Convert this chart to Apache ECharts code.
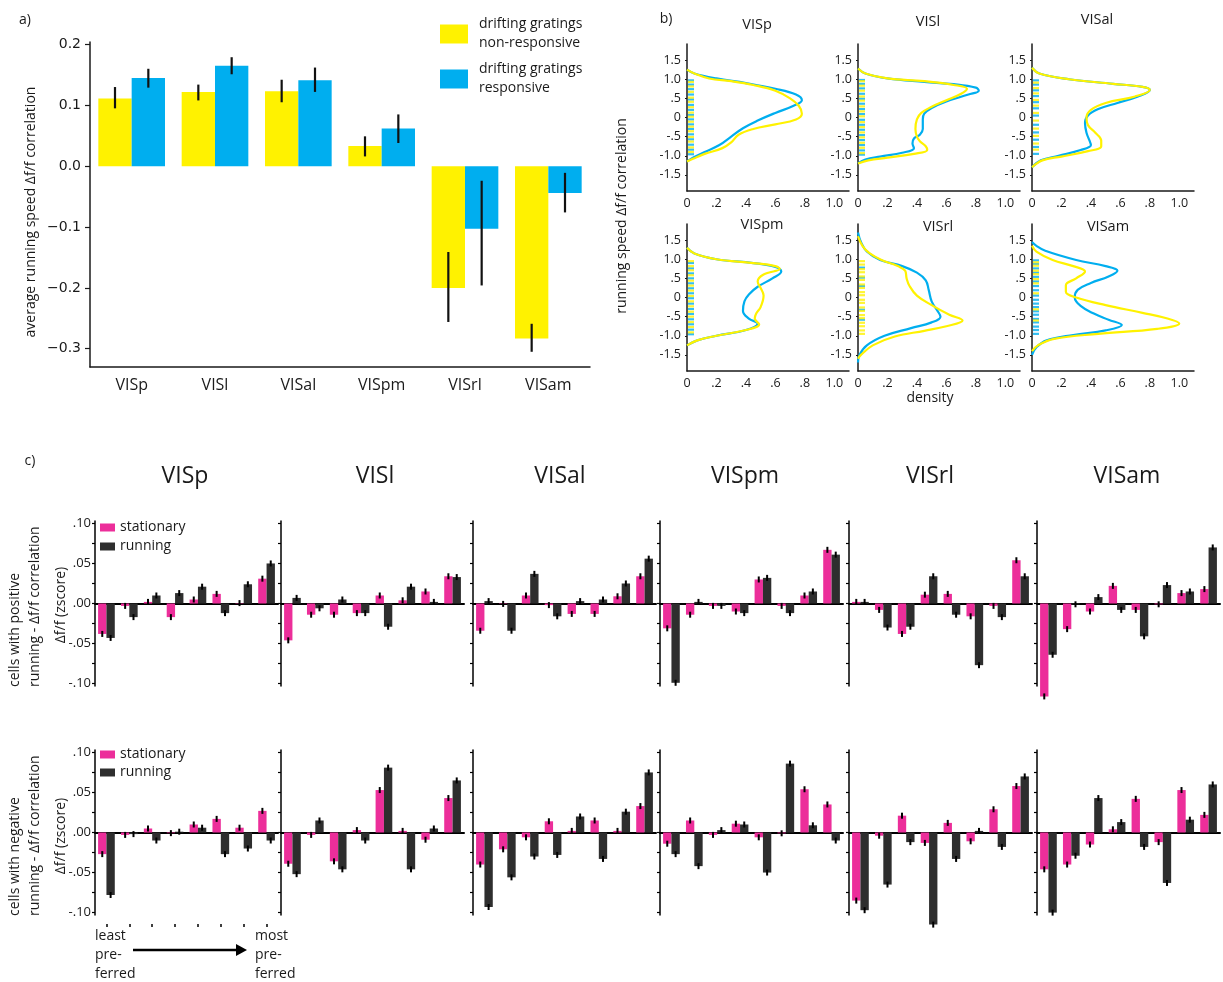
<!DOCTYPE html>
<html>
<head>
<meta charset="utf-8">
<title>Running speed and visual responses across visual areas</title>
<script src="https://cdn.jsdelivr.net/npm/echarts@6/dist/echarts.min.js"></script>
<style>
  html, body { margin: 0; padding: 0; background: #fff; }
  #chart { width: 1223px; height: 982px; }
</style>
</head>
<body>
<div id="chart"></div>
<script>
// ---------- a) average running speed / dF/F correlation ----------
const areas = ['VISp', 'VISl', 'VISal', 'VISpm', 'VISrl', 'VISam'];
const corrNonResponsive = [0.111, 0.122, 0.123, 0.033, -0.200, -0.283];
const corrResponsive    = [0.145, 0.165, 0.141, 0.062, -0.103, -0.044];
const errNonResponsive  = [[0.095, 0.130], [0.108, 0.134], [0.105, 0.142], [0.016, 0.049], [-0.256, -0.141], [-0.305, -0.259]];
const errResponsive     = [[0.129, 0.160], [0.151, 0.179], [0.122, 0.162], [0.038, 0.085], [-0.196, -0.024], [-0.076, -0.011]];
const corrTicks      = [0.2, 0.1, 0, -0.1, -0.2, -0.3];
const corrTickLabels = ['0.2', '0.1', '0.0', '\u22120.1', '\u22120.2', '\u22120.3'];

// ---------- b) density of running correlation, [density, correlation] ----------
const kdeVISpNon  = [[0,1.25],[0.05,1.15],[0.15,1.02],[0.3,0.95],[0.45,0.85],[0.6,0.7],[0.7,0.5],[0.76,0.3],[0.78,0.1],[0.74,-0.05],[0.6,-0.18],[0.45,-0.3],[0.35,-0.45],[0.3,-0.65],[0.24,-0.8],[0.12,-0.95],[0.04,-1.08],[0,-1.15]];
const kdeVISpResp = [[0,1.25],[0.05,1.15],[0.2,1.02],[0.4,0.9],[0.6,0.75],[0.74,0.6],[0.78,0.45],[0.72,0.3],[0.6,0.12],[0.48,-0.08],[0.38,-0.28],[0.3,-0.5],[0.22,-0.72],[0.12,-0.9],[0.04,-1.05],[0,-1.15]];
const kdeVISlNon  = [[0,1.28],[0.05,1.15],[0.2,1.02],[0.45,0.95],[0.65,0.85],[0.74,0.75],[0.7,0.62],[0.6,0.45],[0.5,0.28],[0.43,0.12],[0.4,-0.05],[0.39,-0.3],[0.4,-0.5],[0.42,-0.62],[0.46,-0.75],[0.47,-0.85],[0.38,-0.95],[0.2,-1.05],[0.07,-1.12],[0,-1.2]];
const kdeVISlResp = [[0,1.28],[0.05,1.15],[0.2,1.02],[0.45,0.93],[0.65,0.87],[0.8,0.78],[0.82,0.7],[0.75,0.6],[0.6,0.42],[0.5,0.25],[0.45,0.1],[0.44,-0.05],[0.44,-0.3],[0.42,-0.45],[0.38,-0.55],[0.37,-0.68],[0.38,-0.8],[0.3,-0.92],[0.15,-1.02],[0.05,-1.1],[0,-1.2]];
const kdeVISalNon  = [[0,1.3],[0.05,1.15],[0.25,1.0],[0.55,0.88],[0.75,0.8],[0.8,0.72],[0.7,0.55],[0.5,0.38],[0.4,0.2],[0.37,0.0],[0.38,-0.2],[0.43,-0.4],[0.47,-0.6],[0.47,-0.75],[0.38,-0.88],[0.2,-1.02],[0.07,-1.12],[0,-1.3]];
const kdeVISalResp = [[0,1.3],[0.05,1.15],[0.25,1.0],[0.55,0.88],[0.75,0.8],[0.8,0.72],[0.72,0.55],[0.58,0.38],[0.45,0.22],[0.38,0.05],[0.36,-0.15],[0.37,-0.4],[0.39,-0.6],[0.4,-0.72],[0.33,-0.85],[0.18,-1.0],[0.06,-1.12],[0,-1.3]];
const kdeVISpmNon  = [[0,1.3],[0.05,1.15],[0.2,1.0],[0.45,0.9],[0.6,0.82],[0.63,0.75],[0.52,0.6],[0.48,0.42],[0.5,0.25],[0.52,0.05],[0.5,-0.25],[0.47,-0.42],[0.46,-0.55],[0.49,-0.7],[0.4,-0.85],[0.2,-1.0],[0.07,-1.12],[0,-1.25]];
const kdeVISpmResp = [[0,1.3],[0.05,1.15],[0.2,1.0],[0.45,0.9],[0.6,0.8],[0.64,0.68],[0.58,0.5],[0.48,0.28],[0.42,0.08],[0.39,-0.1],[0.38,-0.35],[0.42,-0.55],[0.48,-0.68],[0.4,-0.85],[0.2,-1.0],[0.07,-1.12],[0,-1.25]];
const kdeVISrlNon  = [[0,1.6],[0.03,1.35],[0.08,1.15],[0.16,0.98],[0.27,0.82],[0.32,0.7],[0.33,0.5],[0.35,0.3],[0.4,0.05],[0.5,-0.2],[0.62,-0.45],[0.71,-0.6],[0.6,-0.75],[0.45,-0.87],[0.25,-1.02],[0.1,-1.25],[0.02,-1.5],[0,-1.6]];
const kdeVISrlResp = [[0,1.7],[0.02,1.45],[0.06,1.2],[0.15,0.98],[0.3,0.82],[0.4,0.65],[0.46,0.45],[0.48,0.2],[0.5,-0.1],[0.54,-0.35],[0.56,-0.5],[0.5,-0.65],[0.36,-0.8],[0.18,-1.0],[0.06,-1.25],[0.01,-1.5],[0,-1.7]];
const kdeVISamNon  = [[0,1.35],[0.03,1.2],[0.14,0.98],[0.28,0.82],[0.36,0.68],[0.3,0.5],[0.23,0.32],[0.23,0.15],[0.3,0.0],[0.5,-0.2],[0.75,-0.4],[0.92,-0.55],[1.0,-0.68],[0.85,-0.82],[0.45,-0.95],[0.15,-1.08],[0.04,-1.25],[0,-1.4]];
const kdeVISamResp = [[0,1.45],[0.03,1.35],[0.09,1.22],[0.3,0.98],[0.5,0.82],[0.58,0.7],[0.52,0.55],[0.4,0.38],[0.31,0.2],[0.29,0.0],[0.33,-0.22],[0.42,-0.42],[0.52,-0.58],[0.61,-0.72],[0.5,-0.86],[0.28,-0.98],[0.1,-1.12],[0.03,-1.3],[0,-1.5]];

// individual cell correlations (rug)
const rugVISpNon   = [0.93, 0.81, 0.67, 0.52, 0.41, 0.27, 0.13, 0.02, -0.11, -0.24, -0.36, -0.51, -0.63, -0.78, -0.9];
const rugVISpResp  = [0.97, 0.86, 0.74, 0.6, 0.47, 0.33, 0.2, 0.07, -0.05, -0.18, -0.3, -0.44, -0.57, -0.71, -0.84, -0.96];
const rugVISlNon   = [0.95, 0.83, 0.7, 0.55, 0.44, 0.29, 0.16, 0.03, -0.12, -0.25, -0.39, -0.52, -0.66, -0.79, -0.93];
const rugVISlResp  = [0.98, 0.88, 0.76, 0.62, 0.49, 0.36, 0.22, 0.09, -0.06, -0.19, -0.32, -0.46, -0.59, -0.72, -0.86, -0.97];
const rugVISalNon  = [0.91, 0.77, 0.63, 0.46, 0.31, 0.12, -0.08, -0.29, -0.48, -0.68, -0.84];
const rugVISalResp = [0.97, 0.86, 0.71, 0.56, 0.4, 0.24, 0.05, -0.19, -0.39, -0.58, -0.77, -0.95];
const rugVISpmNon  = [0.95, 0.82, 0.71, 0.58, 0.44, 0.31, 0.18, 0.04, -0.1, -0.23, -0.37, -0.5, -0.64, -0.77, -0.91];
const rugVISpmResp = [0.9, 0.76, 0.63, 0.5, 0.37, 0.24, 0.11, -0.02, -0.16, -0.3, -0.43, -0.57, -0.7, -0.84, -0.96];
const rugVISrlNon  = [0.95, 0.86, 0.74, 0.66, 0.55, 0.46, 0.34, 0.25, 0.14, 0.06, -0.06, -0.14, -0.26, -0.35, -0.46, -0.54, -0.66, -0.75, -0.86, -0.95];
const rugVISrlResp = [0.78, 0.52, 0.3, -0.32, -0.58];
const rugVISamNon  = [0.92, 0.83, 0.7, 0.61, 0.48, 0.37, 0.11, -0.31, -0.6];
const rugVISamResp = [0.97, 0.88, 0.76, 0.65, 0.54, 0.42, 0.3, 0.19, 0.05, -0.06, -0.16, -0.25, -0.36, -0.45, -0.56, -0.65, -0.76, -0.85, -0.95];

const densityTicks = [0, 0.2, 0.4, 0.6, 0.8, 1.0];
const densityTickLabels = ['0', '.2', '.4', '.6', '.8', '1.0'];
const kdeCorrTicks = [1.5, 1.0, 0.5, 0, -0.5, -1.0, -1.5];
const kdeCorrTickLabels = ['1.5', '1.0', '.5', '0', '-.5', '-1.0', '-1.5'];

// ---------- c) responses ordered by preference, stationary vs running ----------
const prefRanks = ['1', '2', '3', '4', '5', '6', '7', '8'];
// cells with positive running - dF/F correlation
const posStationaryVISp  = [-0.038, -0.003, 0.002, -0.017, 0.005, 0.012, 0.0005, 0.031];
const posRunningVISp     = [-0.043, -0.017, 0.010, 0.013, 0.021, -0.012, 0.024, 0.050];
const posStationaryVISl  = [-0.046, -0.014, -0.014, -0.012, 0.010, 0.004, 0.015, 0.034];
const posRunningVISl     = [0.007, -0.006, 0.005, -0.012, -0.029, 0.021, 0.002, 0.033];
const posStationaryVISal = [-0.034, -0.0005, 0.010, -0.002, -0.013, -0.013, 0.009, 0.034];
const posRunningVISal    = [0.003, -0.034, 0.037, -0.016, 0.003, 0.005, 0.025, 0.056];
const posStationaryVISpm = [-0.031, -0.014, -0.003, -0.010, 0.030, -0.003, 0.010, 0.067];
const posRunningVISpm    = [-0.099, 0.002, -0.003, -0.012, 0.032, -0.012, 0.015, 0.061];
const posStationaryVISrl = [0.002, -0.008, -0.038, 0.011, 0.012, -0.016, -0.003, 0.054];
const posRunningVISrl    = [0.002, -0.030, -0.029, 0.034, -0.014, -0.077, -0.017, 0.034];
const posStationaryVISam = [-0.116, -0.032, -0.010, 0.022, -0.008, -0.001, 0.013, 0.018];
const posRunningVISam    = [-0.064, -0.001, 0.008, -0.008, -0.041, 0.023, 0.015, 0.070];
// cells with negative running - dF/F correlation
const negStationaryVISp  = [-0.027, -0.003, 0.005, -0.0008, 0.010, 0.017, 0.006, 0.027];
const negRunningVISp     = [-0.078, -0.002, -0.010, 0.001, 0.006, -0.027, -0.020, -0.010];
const negStationaryVISl  = [-0.039, -0.003, -0.036, 0.003, 0.053, 0.002, -0.009, 0.043];
const negRunningVISl     = [-0.052, 0.015, -0.046, -0.010, 0.081, -0.046, 0.005, 0.065];
const negStationaryVISal = [-0.040, -0.021, -0.006, 0.014, 0.002, 0.015, 0.002, 0.033];
const negRunningVISal    = [-0.093, -0.056, -0.030, -0.028, 0.020, -0.033, 0.026, 0.075];
const negStationaryVISpm = [-0.014, 0.015, -0.003, 0.011, -0.006, -0.001, 0.054, 0.035];
const negRunningVISpm    = [-0.027, -0.042, 0.003, 0.010, -0.050, 0.086, 0.009, -0.010];
const negStationaryVISrl = [-0.085, -0.004, 0.021, -0.013, 0.012, -0.011, 0.029, 0.058];
const negRunningVISrl    = [-0.097, -0.065, -0.012, -0.115, -0.033, 0.002, -0.018, 0.070];
const negStationaryVISam = [-0.046, -0.040, -0.015, 0.004, 0.042, -0.012, 0.053, 0.022];
const negRunningVISam    = [-0.100, -0.029, 0.043, 0.013, -0.018, -0.063, 0.016, 0.060];

const zTicks = [0.1, 0.075, 0.05, 0.025, 0, -0.025, -0.05, -0.075, -0.1];
const zLabelTicks = [0.1, 0.05, 0, -0.05, -0.1];
const zTickLabels = ['.10', '.05', '.00', '-.05', '-.10'];

// ---------- styling ----------
const FONT = "'Open Sans', 'Noto Sans', sans-serif";
const NUMFONT = "'DejaVu Sans', sans-serif";
const INK = '#1a1a1a';
const YELLOW = '#FFF200', BLUE = '#00AEEF', PINK = '#EC2E9A', DARK = '#2E2E2E';

function labelLookup(ticks, labels) {
  return v => {
    for (let i = 0; i < ticks.length; i++) if (Math.abs(ticks[i] - v) < 1e-6) return labels[i];
    return '';
  };
}

const grid = [], xAxis = [], yAxis = [], series = [], legend = [], graphic = [];

// ===== a) =====
grid.push({ left: 90, top: 42, width: 500, height: 325 });
xAxis.push({
  gridIndex: 0, type: 'category', data: areas,
  axisLine: { onZero: false, lineStyle: { color: INK, width: 1.5 } },
  axisTick: { alignWithLabel: true, length: 5, lineStyle: { color: INK, width: 1.2 } },
  axisLabel: { fontFamily: FONT, fontSize: 16, color: INK, margin: 10 }
});
yAxis.push({
  gridIndex: 0, type: 'value', min: -0.33, max: 0.204,
  splitLine: { show: false },
  axisLine: { show: true, lineStyle: { color: INK, width: 1.5 } },
  axisTick: { show: true, length: 5, customValues: corrTicks, lineStyle: { color: INK, width: 1.2 } },
  axisLabel: { customValues: corrTicks, formatter: labelLookup(corrTicks, corrTickLabels),
               fontFamily: NUMFONT, fontSize: 14, color: INK, margin: 9 }
});
const nameNon = 'drifting gratings\nnon-responsive';
const nameResp = 'drifting gratings\nresponsive';
series.push(
  { type: 'bar', name: nameNon, xAxisIndex: 0, yAxisIndex: 0, data: corrNonResponsive,
    barGap: '0%', barCategoryGap: '20%', itemStyle: { color: YELLOW } },
  { type: 'bar', name: nameResp, xAxisIndex: 0, yAxisIndex: 0, data: corrResponsive,
    barGap: '0%', barCategoryGap: '20%', itemStyle: { color: BLUE } }
);
function errorLine(shift) {
  return (params, api) => {
    const band = api.size([1, 0])[0];
    const x = api.coord([api.value(0), 0])[0] + shift * band;
    const y1 = api.coord([api.value(0), api.value(1)])[1];
    const y2 = api.coord([api.value(0), api.value(2)])[1];
    return { type: 'line', shape: { x1: x, y1: y1, x2: x, y2: y2 }, style: { stroke: '#111', lineWidth: 2.2 } };
  };
}
series.push(
  { type: 'custom', name: 'sem non-responsive', xAxisIndex: 0, yAxisIndex: 0, z: 5,
    renderItem: errorLine(-0.2), encode: { x: 0, y: [1, 2] },
    data: errNonResponsive.map((e, i) => [i, e[0], e[1]]) },
  { type: 'custom', name: 'sem responsive', xAxisIndex: 0, yAxisIndex: 0, z: 5,
    renderItem: errorLine(0.2), encode: { x: 0, y: [1, 2] },
    data: errResponsive.map((e, i) => [i, e[0], e[1]]) }
);
legend.push({
  left: 440, top: 15, padding: 0, orient: 'vertical', icon: 'rect', selectedMode: false,
  itemWidth: 28, itemHeight: 19, itemGap: 7,
  data: [nameNon, nameResp],
  textStyle: { fontFamily: FONT, fontSize: 14, lineHeight: 19, color: INK, padding: [0, 0, 0, 6] }
});

// ===== b) =====
const kdeNon  = [kdeVISpNon, kdeVISlNon, kdeVISalNon, kdeVISpmNon, kdeVISrlNon, kdeVISamNon];
const kdeResp = [kdeVISpResp, kdeVISlResp, kdeVISalResp, kdeVISpmResp, kdeVISrlResp, kdeVISamResp];
const rugNon  = [rugVISpNon, rugVISlNon, rugVISalNon, rugVISpmNon, rugVISrlNon, rugVISamNon];
const rugResp = [rugVISpResp, rugVISlResp, rugVISalResp, rugVISpmResp, rugVISrlResp, rugVISamResp];
const bLeft = [687, 858, 1032], bTop = [44, 224];
const bTitlePos = [[757, 25], [928, 22], [1097, 20], [762, 225], [938, 227], [1108, 227]];
for (let k = 0; k < 6; k++) {
  const row = k < 3 ? 0 : 1, col = k % 3;
  const gi = grid.length;
  grid.push({ left: bLeft[col], top: bTop[row], width: 162, height: 147 });
  const xi = xAxis.length, yi = yAxis.length;
  xAxis.push({
    gridIndex: gi, type: 'value', min: 0, max: 1.1, splitLine: { show: false },
    axisLine: { onZero: false, lineStyle: { color: INK, width: 1.5 } },
    axisTick: { show: false },
    axisLabel: { customValues: densityTicks, formatter: labelLookup(densityTicks, densityTickLabels),
                 fontFamily: FONT, fontSize: 12.5, color: INK, margin: 6 }
  });
  yAxis.push({
    gridIndex: gi, type: 'value', min: -1.92, max: 1.92, splitLine: { show: false },
    axisLine: { show: true, onZero: false, lineStyle: { color: INK, width: 1.5 } },
    axisTick: { show: true, length: 2, customValues: kdeCorrTicks, lineStyle: { color: INK } },
    axisLabel: { customValues: kdeCorrTicks, formatter: labelLookup(kdeCorrTicks, kdeCorrTickLabels),
                 fontFamily: FONT, fontSize: 12.5, color: INK, margin: 6 }
  });
  series.push(
    { type: 'line', name: 'responsive density', xAxisIndex: xi, yAxisIndex: yi, data: kdeResp[k],
      smooth: 0.4, symbol: 'none', lineStyle: { color: BLUE, width: 2.2 } },
    { type: 'line', name: 'non-responsive density', xAxisIndex: xi, yAxisIndex: yi, data: kdeNon[k],
      smooth: 0.4, symbol: 'none', lineStyle: { color: YELLOW, width: 2.2 } },
    { type: 'scatter', name: 'responsive cells', xAxisIndex: xi, yAxisIndex: yi,
      data: rugResp[k].map(v => [0, v]), symbol: 'rect', symbolSize: [6, 2.2], symbolOffset: [4, 0],
      itemStyle: { color: BLUE }, silent: true },
    { type: 'scatter', name: 'non-responsive cells', xAxisIndex: xi, yAxisIndex: yi,
      data: rugNon[k].map(v => [0, v]), symbol: 'rect', symbolSize: [6, 2.2], symbolOffset: [4, 0],
      itemStyle: { color: YELLOW }, silent: true }
  );
  graphic.push({ type: 'text', x: bTitlePos[k][0], y: bTitlePos[k][1],
    style: { text: areas[k], fill: INK, fontFamily: FONT, fontSize: 14.5, align: 'center', verticalAlign: 'middle' } });
}

// ===== c) =====
const posStationary = [posStationaryVISp, posStationaryVISl, posStationaryVISal, posStationaryVISpm, posStationaryVISrl, posStationaryVISam];
const posRunning    = [posRunningVISp, posRunningVISl, posRunningVISal, posRunningVISpm, posRunningVISrl, posRunningVISam];
const negStationary = [negStationaryVISp, negStationaryVISl, negStationaryVISal, negStationaryVISpm, negStationaryVISrl, negStationaryVISam];
const negRunning    = [negRunningVISp, negRunningVISl, negRunningVISal, negRunningVISpm, negRunningVISrl, negRunningVISam];
const cLeft = [95, 281, 473, 660, 849, 1037], cTop = [521, 750];
const cTitleX = [185, 375, 560, 745, 930, 1127];

function tipMarker(shift) {
  return (params, api) => {
    const band = api.size([1, 0])[0];
    const p = api.coord([api.value(0), api.value(1)]);
    const x = p[0] + shift * band;
    return { type: 'line', shape: { x1: x, y1: p[1] - 3, x2: x, y2: p[1] + 3 }, style: { stroke: '#000', lineWidth: 2 } };
  };
}

for (let r = 0; r < 2; r++) {
  const stat = r === 0 ? posStationary : negStationary;
  const run  = r === 0 ? posRunning : negRunning;
  for (let i = 0; i < 6; i++) {
    const gi = grid.length;
    grid.push({ left: cLeft[i], top: cTop[r], width: 183, height: 165 });
    const xi = xAxis.length, yi = yAxis.length;
    xAxis.push({
      gridIndex: gi, type: 'category', data: prefRanks, position: 'bottom',
      axisLine: { onZero: true, lineStyle: { color: '#000', width: 2 } },
      axisTick: { show: false }, axisLabel: { show: false }
    });
    yAxis.push({
      gridIndex: gi, type: 'value', min: -0.103, max: 0.103, splitLine: { show: false },
      axisLine: { show: true, lineStyle: { color: '#000', width: 1.5 } },
      axisTick: { show: true, length: 3, customValues: zTicks, lineStyle: { color: '#000', width: 1.2 } },
      axisLabel: { show: i === 0, customValues: zLabelTicks, formatter: labelLookup(zLabelTicks, zTickLabels),
                   fontFamily: FONT, fontSize: 13, color: INK, margin: 4 }
    });
    series.push(
      { type: 'bar', name: 'stationary', xAxisIndex: xi, yAxisIndex: yi, data: stat[i], clip: false,
        barGap: '0%', barCategoryGap: '27%', itemStyle: { color: PINK } },
      { type: 'bar', name: 'running', xAxisIndex: xi, yAxisIndex: yi, data: run[i], clip: false,
        barGap: '0%', barCategoryGap: '27%', itemStyle: { color: DARK } },
      { type: 'custom', name: 'sem stationary', xAxisIndex: xi, yAxisIndex: yi, z: 5, clip: false,
        renderItem: tipMarker(-0.1825), encode: { x: 0, y: 1 }, data: stat[i].map((v, j) => [j, v]) },
      { type: 'custom', name: 'sem running', xAxisIndex: xi, yAxisIndex: yi, z: 5, clip: false,
        renderItem: tipMarker(0.1825), encode: { x: 0, y: 1 }, data: run[i].map((v, j) => [j, v]) }
    );
    if (r === 1 && i === 0) {
      // preference-rank ticks under the first panel
      xAxis.push({
        gridIndex: gi, type: 'category', data: prefRanks, position: 'bottom', offset: 9,
        axisLine: { show: false, onZero: false },
        axisTick: { show: true, alignWithLabel: true, length: 3, lineStyle: { color: '#000', width: 1.5 } },
        axisLabel: { show: false }
      });
    }
    if (r === 0) {
      graphic.push({ type: 'text', x: cTitleX[i], y: 476,
        style: { text: areas[i], fill: INK, fontFamily: FONT, fontSize: 23, align: 'center', verticalAlign: 'middle' } });
    }
  }
  legend.push({
    left: 100, top: r === 0 ? 519 : 746, padding: 0, orient: 'vertical', icon: 'rect', selectedMode: false,
    itemWidth: 15, itemHeight: 8, itemGap: r === 0 ? 2 : 1,
    data: ['stationary', 'running'],
    textStyle: { fontFamily: FONT, fontSize: 14, lineHeight: 17, color: INK }
  });
}

// ===== text annotations =====
function txt(x, y, text, size, extra) {
  return Object.assign({ type: 'text', x: x, y: y, z: 100,
    style: Object.assign({ text: text, fill: INK, fontFamily: FONT, fontSize: size, align: 'center', verticalAlign: 'middle' },
                         (extra && extra.style) || {}) },
    extra && extra.rotation ? { rotation: extra.rotation } : {});
}
const UP = Math.PI / 2;
graphic.push(
  txt(25, 20, 'a)', 14),
  txt(666, 19, 'b)', 14),
  txt(30, 461, 'c)', 14),
  txt(31, 212, 'average running speed \u0394f/f correlation', 14, { rotation: UP }),
  txt(622, 216, 'running speed \u0394f/f correlation', 14, { rotation: UP }),
  txt(930, 398, 'density', 14),
  txt(25, 687, 'cells with positive\nrunning - \u0394f/f correlation', 14,
      { rotation: UP, style: { align: 'left', lineHeight: 20 } }),
  txt(25, 916, 'cells with negative\nrunning - \u0394f/f correlation', 14,
      { rotation: UP, style: { align: 'left', lineHeight: 20 } }),
  txt(61, 605, '\u0394f/f (zscore)', 14, { rotation: UP }),
  txt(61, 836, '\u0394f/f (zscore)', 14, { rotation: UP }),
  txt(95, 927, 'least\npre-\nferred', 14, { style: { align: 'left', verticalAlign: 'top', lineHeight: 19 } }),
  txt(255, 927, 'most\npre-\nferred', 14, { style: { align: 'left', verticalAlign: 'top', lineHeight: 19 } }),
  { type: 'line', z: 100, shape: { x1: 133, y1: 950, x2: 238, y2: 950 }, style: { stroke: '#000', lineWidth: 2.5 } },
  { type: 'polygon', z: 100, shape: { points: [[236, 944], [247, 950], [236, 956]] }, style: { fill: '#000' } }
);

const chart = echarts.init(document.getElementById('chart'), null, { renderer: 'canvas' });
chart.setOption({
  animation: false,
  backgroundColor: '#fff',
  grid: grid, xAxis: xAxis, yAxis: yAxis, series: series, legend: legend, graphic: graphic
});
</script>
</body>
</html>
